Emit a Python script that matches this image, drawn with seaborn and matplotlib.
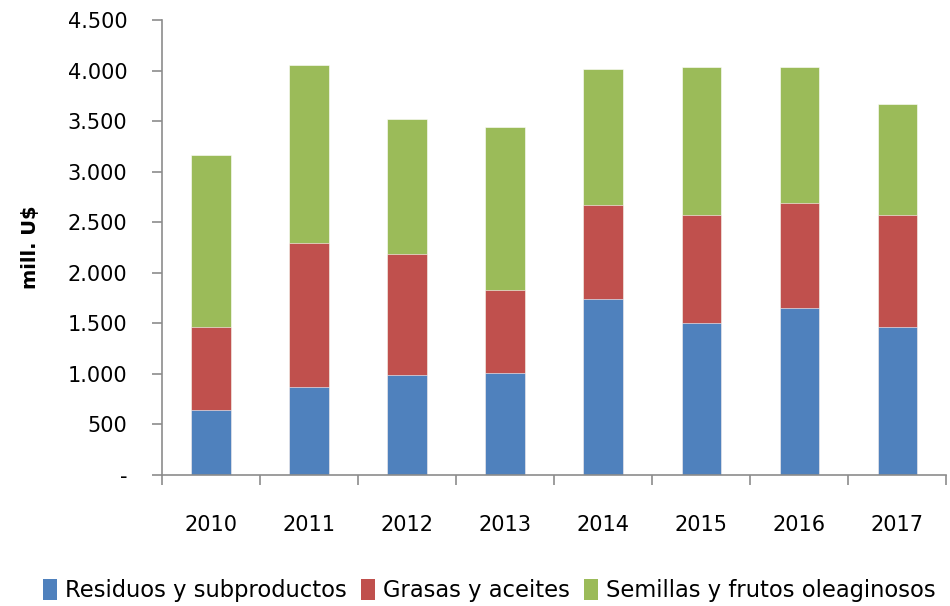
import numpy as np
import pandas as pd
import matplotlib
matplotlib.use("Agg")
import matplotlib.pyplot as plt
import seaborn as sns
from matplotlib.patches import Patch
from matplotlib.ticker import FuncFormatter, FixedLocator

years = ["2010", "2011", "2012", "2013", "2014", "2015", "2016", "2017"]
residuos = [643, 870, 989, 1009, 1741, 1503, 1652, 1464]
grasas = [818, 1425, 1197, 821, 933, 1072, 1041, 1111]
semillas = [1707, 1760, 1335, 1612, 1339, 1461, 1343, 1092]
series_names = ["Residuos y subproductos", "Grasas y aceites", "Semillas y frutos oleaginosos"]
colors = ["#4F81BD", "#C0504D", "#9BBB59"]
yticks = [0, 500, 1000, 1500, 2000, 2500, 3000, 3500, 4000, 4500]

sns.set_theme(style="white")
plt.rcParams['font.family'] = ['DejaVu Sans']
plt.rcParams['text.color'] = 'black'
plt.rcParams['axes.labelcolor'] = 'black'

df = pd.DataFrame({"year": years, "r": residuos, "g": grasas, "s": semillas})
df["c1"] = df["r"]
df["c2"] = df["r"] + df["g"]
df["c3"] = df["c2"] + df["s"]

fig = plt.figure(figsize=(9.5, 6.06), dpi=100)
ax = fig.add_axes([0.1705, 0.2162, 0.8255, 0.7508])

for col, color in zip(["c3", "c2", "c1"], colors[::-1]):
    sns.barplot(data=df, x="year", y=col, color=color, width=0.4, ax=ax,
                saturation=1, edgecolor="white", linewidth=0.4, errorbar=None)

ax.set_xlim(-0.5, len(years) - 0.5)
ax.set_ylim(0, 4500)
ax.yaxis.set_major_locator(FixedLocator(yticks))
ax.yaxis.set_major_formatter(FuncFormatter(lambda v, p: "-" if v == 0 else f"{int(v):,}".replace(",", ".")))
ax.set_xlabel("")
ax.set_ylabel("mill. U$", fontsize=14, fontweight="bold", labelpad=20, color="black")

for side in ["top", "right"]:
    ax.spines[side].set_visible(False)
for side in ["left", "bottom"]:
    ax.spines[side].set_color("#8c8c8c")
    ax.spines[side].set_linewidth(1.2)

ax.xaxis.set_minor_locator(FixedLocator(np.arange(-0.5, len(years), 1.0)))
ax.tick_params(axis="x", which="major", length=0, pad=29, labelsize=15, labelcolor="black")
ax.tick_params(axis="x", which="minor", bottom=True, length=7, width=1.2, color="#8c8c8c", direction="out")
ax.tick_params(axis="y", which="major", left=True, length=7, width=1.2, color="#8c8c8c",
               direction="out", pad=18, labelsize=15, labelcolor="black")

handles = [Patch(facecolor=c, edgecolor="none") for c in colors]
fig.legend(handles, series_names, loc="center", bbox_to_anchor=(0.515, 0.025), ncol=3,
           frameon=False, fontsize=16.3, handlelength=0.65, handleheight=1.0,
           handletextpad=0.35, columnspacing=0.6, labelcolor="black")

fig.savefig("out.png", dpi=100)
